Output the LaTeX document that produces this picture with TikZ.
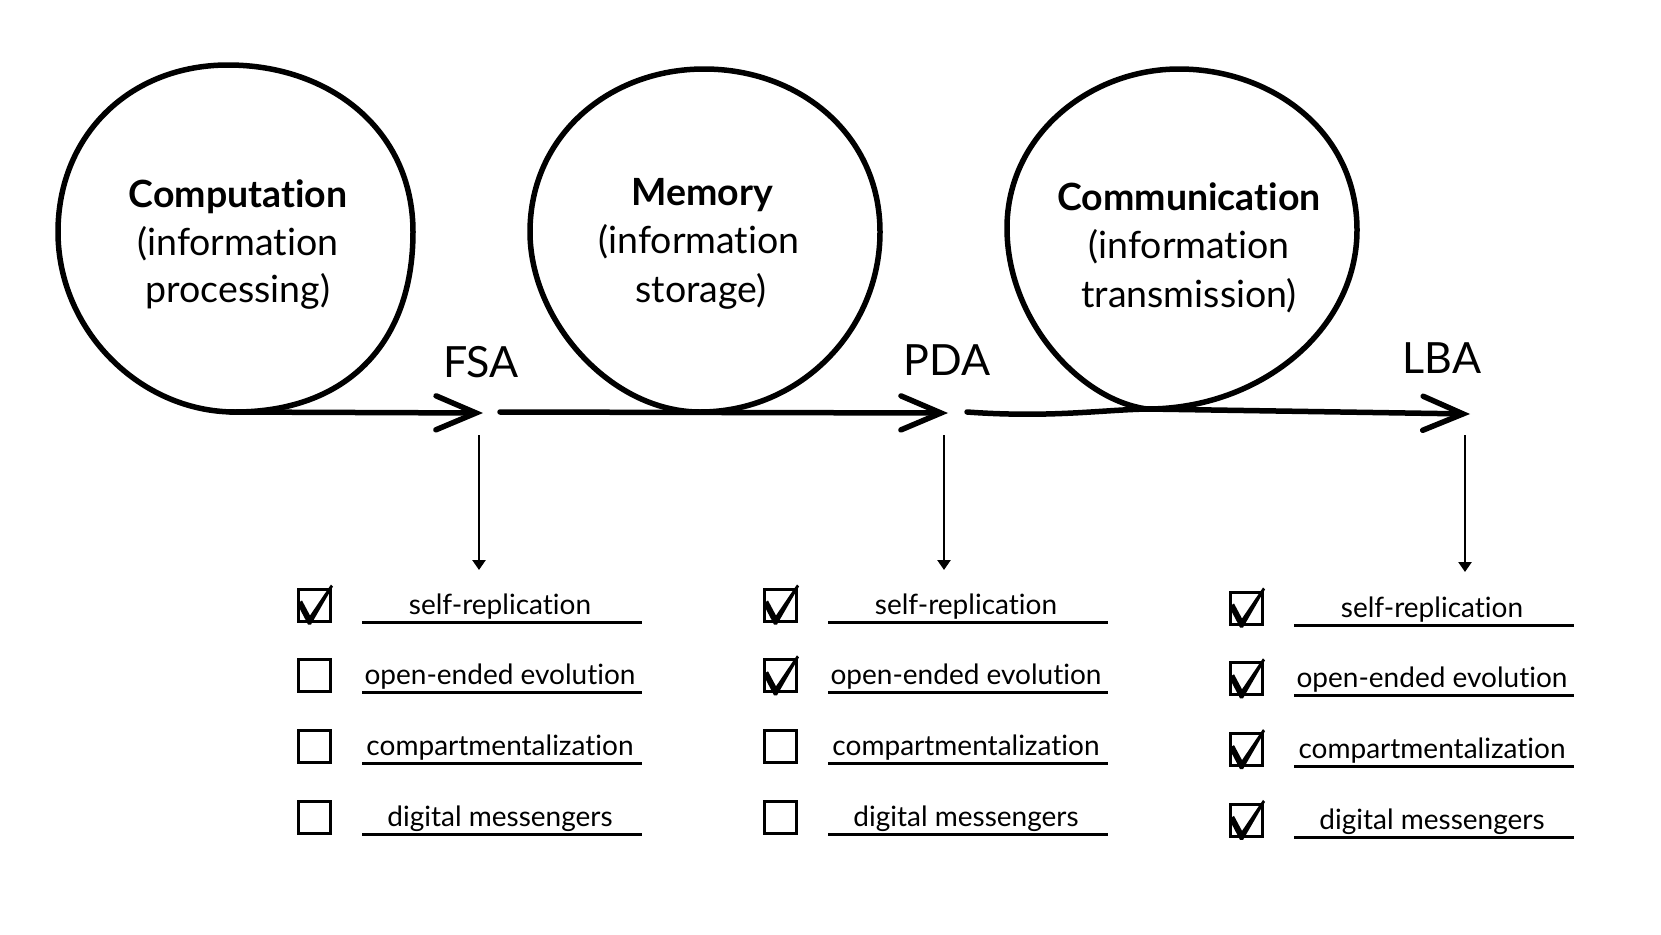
\documentclass[tikz,border=0pt]{standalone}
\usepackage{fontspec}
\setmainfont{Lato}[Ligatures={NoCommon,NoRare,NoContextual}]
\usetikzlibrary{arrows.meta}
\begin{document}
\begin{tikzpicture}[x=1pt,y=-1pt,
  loopline/.style={line width=5.5pt, line join=round},
  mainarrow/.style={line width=5.5pt, line cap=round, -{Straight Barb[length=40pt,width=34pt,line cap=round]}},
  downarrow/.style={line width=2.5pt, -{Triangle[length=10pt,width=13pt]}},
  cbox/.style={draw, line width=3pt, minimum size=32pt, inner sep=0pt},
  uline/.style={line width=3pt},
  itemtext/.style={font=\fontsize{28}{32}\selectfont, anchor=base, inner sep=0pt},
  circtitle/.style={font=\fontsize{37.5}{40}\selectfont\bfseries, anchor=base, inner sep=0pt},
  circsub/.style={font=\fontsize{37.5}{40}\selectfont, anchor=base, inner sep=0pt},
  autlabel/.style={font=\fontsize{43}{48}\selectfont, anchor=base, inner sep=0pt},
  tick/.pic={\fill (-17.5,-1.5) -- (-12.5,-4.5) -- (-4.5,10.5) -- (16.5,-20.5) -- (18.5,-18.5) -- (-3.5,19.5) -- (-6.5,19.5) -- cycle;}
]
\fill[white] (0,0) rectangle (1661,934);
\useasboundingbox (0,0) rectangle (1661,934);

% loops
\draw[loopline] (235,412) .. controls (345,412) and (413,345) .. (413,232)
  .. controls (413,130) and (330,65) .. (228,65)
  .. controls (130,65) and (58,135) .. (58,232)
  .. controls (58,330) and (140,412) .. (235,412) -- cycle;
\draw[loopline] (700,412) .. controls (800,412) and (880,330) .. (880,232)
  .. controls (880,135) and (800,69) .. (704,69)
  .. controls (610,69) and (530,135) .. (530,232)
  .. controls (530,320) and (610,412) .. (700,412) -- cycle;
\draw[loopline] (1147,409) .. controls (1260,409) and (1357,330) .. (1357,230)
  .. controls (1357,130) and (1270,69) .. (1179,69)
  .. controls (1090,69) and (1007,135) .. (1007,228)
  .. controls (1007,320) and (1080,400) .. (1147,409) -- cycle;

% circle texts
\node[circtitle] (t1a) at (238,207) {Computation};
\node[circsub]   (t1b) at (238,255) {(information};
\node[circsub]   (t1c) at (238,302) {processing)};
\node[circtitle] (t2a) at (702,205) {Memory};
\node[circsub]   (t2b) at (699,253) {(information};
\node[circsub]   (t2c) at (701,302) {storage)};
\node[circtitle] (t3a) at (1189,210) {Communication};
\node[circsub]   (t3b) at (1189,258) {(information};
\node[circsub]   (t3c) at (1189,307) {transmission)};

% automata labels
\node[autlabel] (fsa) at (481,377) {FSA};
\node[autlabel] (pda) at (947,375) {PDA};
\node[autlabel] (lba) at (1442,373) {LBA};

% main line coordinates
\coordinate (l1s) at (230,412); \coordinate (l1e) at (483,413);
\coordinate (l2s) at (500,412); \coordinate (l2e) at (948,413);
\coordinate (l3s) at (967,412); \coordinate (l3m) at (1147,409); \coordinate (l3e) at (1470,414);
\draw[mainarrow] (l1s) -- (l1e);
\draw[mainarrow] (l2s) -- (l2e);
\draw[mainarrow] (l3s) .. controls (1050,418) and (1100,410) .. (l3m) -- (l3e);

% down arrows
\coordinate (d1s) at (479,435); \coordinate (d1e) at (479,570);
\coordinate (d2s) at (944,435); \coordinate (d2e) at (944,570);
\coordinate (d3s) at (1465,435); \coordinate (d3e) at (1465,572);
\draw[downarrow] (d1s) -- (d1e);
\draw[downarrow] (d2s) -- (d2e);
\draw[downarrow] (d3s) -- (d3e);

% checklists
\foreach \c/\dx/\dy/\nchk in {1/0/0/1, 2/466/0/2, 3/932/3/4} {
  \foreach \r/\t in {1/self-replication, 2/open-ended evolution, 3/compartmentalization, 4/digital messengers} {
    \pgfmathsetmacro\ly{622+(\r-1)*70.8+\dy}
    \node[cbox] (box\c\r) at (314.5+\dx, \ly-17) {};
    \coordinate (ul\c\r) at (362+\dx,\ly);
    \coordinate (ur\c\r) at (642+\dx,\ly);
    \draw[uline] (ul\c\r) -- (ur\c\r);
    \node[itemtext] (item\c\r) at (500+\dx,\ly-8) {\t};
    \ifnum\r>\nchk\relax\else \pic at (box\c\r.center) {tick};\fi
  }
}
\end{tikzpicture}
\end{document}
